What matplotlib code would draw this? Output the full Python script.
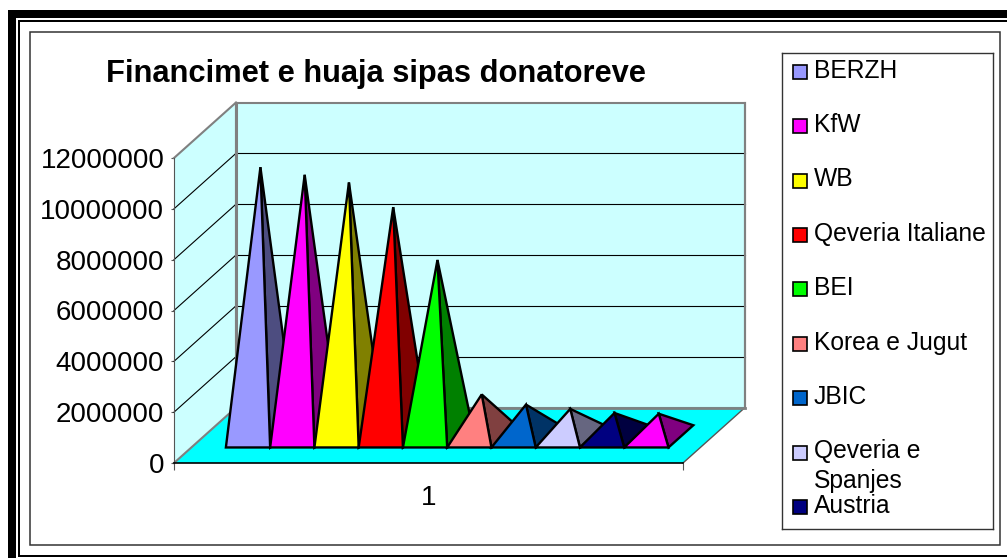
import matplotlib
matplotlib.use('Agg')
import matplotlib.pyplot as plt
from matplotlib.patches import Polygon, Rectangle

plt.rcParams['font.family'] = ['Liberation Sans', 'DejaVu Sans']

# donors
donors = ['BERZH', 'KfW', 'WB', 'Qeveria Italiane', 'BEI', 'Korea e Jugut',
          'JBIC', 'Qeveria e\nSpanjes', 'Austria']
values = [10590000, 10290000, 9990000, 9020000, 6940000, 1650000, 1250000,
          1080000, 920000, 890000]
front_colors = ['#9999FF', '#FF00FF', '#FFFF00', '#FF0000', '#00FF00', '#FF8080',
                '#0066CC', '#CCCCFF', '#000080', '#FF00FF']
side_colors = ['#4D4D80', '#800080', '#808000', '#800000', '#008000', '#804040',
               '#003366', '#666680', '#000040', '#800080']
y_ticks = [0, 2000000, 4000000, 6000000, 8000000, 10000000, 12000000]
categories = ['1']

W, H = 1007, 558
fig = plt.figure(figsize=(W / 100, H / 100), dpi=100, facecolor='white')


def px_axes(x0, y0, x1, y1):
    # y counted from the top of the image, like in the reference
    return fig.add_axes([x0 / W, 1 - y1 / H, (x1 - x0) / W, (y1 - y0) / H])


# frames around the whole picture (no border on the right side)
bg = px_axes(0, 0, W, H)
bg.set_xlim(0, W)
bg.set_ylim(H, 0)
bg.axis('off')
bg.add_patch(Rectangle((8, 10), W - 8, 7.5, fc='black', ec='none'))
bg.add_patch(Rectangle((8, 10), 8, H - 10, fc='black', ec='none'))
bg.add_patch(Rectangle((18, 20), W - 18, 2, fc='black', ec='none'))
bg.add_patch(Rectangle((18, 20), 2, H - 21, fc='black', ec='none'))
bg.add_patch(Rectangle((18, 555), W - 18, 2, fc='black', ec='none'))
bg.add_patch(Rectangle((29.5, 31.5), 970, 513, fill=False, ec='#333333', lw=1.1))

# plot axes = front plane of the 3d box
ax = px_axes(174, 158, 683, 463)
n = len(values)
gap = 1.5
ax.set_xlim(0, n + gap)
ax.set_ylim(0, 12000000)
ax.patch.set_visible(False)
for s in ['top', 'right']:
    ax.spines[s].set_visible(False)
ax.spines['left'].set_color('#555555')
ax.spines['bottom'].set_linewidth(1.2)
ax.set_yticks(y_ticks)
ax.set_yticklabels([str(v) for v in y_ticks])
ax.set_xticks([0, n + gap])
ax.set_xticklabels([])
ax.tick_params(axis='y', labelsize=20, length=2, pad=5, color='#555555')
ax.tick_params(axis='x', length=5, color='#555555', direction='out')
ax.text((n + gap) / 2, -1365000, categories[0], fontsize=20, ha='center', va='center')

# depth of the box, in data units of the front plane
depth_x = 62 / 509 * (n + gap)
depth_y = 55.5 / 305 * 12000000


def proj(x, v, d):
    return (x + d * depth_x, v + d * depth_y)


xe = n + gap
top = y_ticks[-1]
wall = '#CCFFFF'
grey = '#808080'
# left wall, back wall, floor
ax.add_patch(Polygon([proj(0, 0, 0), proj(0, top, 0), proj(0, top, 1), proj(0, 0, 1)],
                     fc=wall, ec='none', clip_on=False, zorder=1))
ax.add_patch(Polygon([proj(0, 0, 1), proj(0, top, 1), proj(xe, top, 1), proj(xe, 0, 1)],
                     fc=wall, ec=grey, lw=1.5, clip_on=False, zorder=1))
ax.add_patch(Polygon([proj(0, 0, 0), proj(xe, 0, 0), proj(xe, 0, 1), proj(0, 0, 1)],
                     fc='#00FFFF', ec='none', clip_on=False, zorder=1))
ax.plot(*zip(proj(0, top, 0), proj(0, top, 1)), color=grey, lw=1.5, clip_on=False, zorder=2)
ax.plot(*zip(proj(0, 0, 0), proj(0, 0, 1)), color=grey, lw=1.5, clip_on=False, zorder=2)
ax.plot(*zip(proj(xe, 0, 0), proj(xe, 0, 1)), color='#555555', lw=1, clip_on=False, zorder=2)
ax.plot(*zip(proj(0, 0, 1), proj(xe, 0, 1)), color=grey, lw=2, clip_on=False, zorder=2)
for v in y_ticks[1:-1]:
    ax.plot(*zip(proj(0, v, 0), proj(0, v, 1)), color='black', lw=0.8, clip_on=False, zorder=2)
    ax.plot(*zip(proj(0, v, 1), proj(xe, v, 1)), color='black', lw=0.8, clip_on=False, zorder=2)
ax.plot(*zip(proj(0, 0, 1), proj(0, top, 1)), color=grey, lw=2.2, clip_on=False, zorder=2)
ax.plot(*zip(proj(xe, 0, 1), proj(xe, top, 1)), color=grey, lw=1.5, clip_on=False, zorder=2)

# pyramids, left to right
d_front, d_mid, d_back = 0.28, 0.48, 0.68
for i, (val, fc, sc) in enumerate(zip(values, front_colors, side_colors)):
    x0 = gap / 2 + i + 0.03
    x1 = x0 + 1
    apex = proj(x0 + 0.5, val, d_mid)
    ax.add_patch(Polygon([proj(x1, 0, d_front), proj(x1, 0, d_back), apex],
                         fc=sc, ec='black', lw=1.7, joinstyle='miter', clip_on=False, zorder=3))
    ax.add_patch(Polygon([proj(x0, 0, d_front), proj(x1, 0, d_front), apex],
                         fc=fc, ec='black', lw=1.7, joinstyle='miter', clip_on=False, zorder=3))

fig.text(376 / W, 1 - 74 / H, 'Financimet e huaja sipas donatoreve', fontsize=22.2,
         fontweight='bold', ha='center', va='center')

# legend box
lg = px_axes(782, 53, 993, 529)
lg.set_xlim(782, 993)
lg.set_ylim(529, 53)
lg.set_xticks([])
lg.set_yticks([])
for s in lg.spines.values():
    s.set_color('#333333')
    s.set_linewidth(1)
for i, name in enumerate(donors):
    yc = 71.5 + i * 54.5
    lg.add_patch(Rectangle((793, yc - 7), 14, 14, fc=front_colors[i], ec='black', lw=1.2))
    # baseline of a wrapped label is the one of its last line
    lg.text(814, yc + 6 + 29 * name.count('\n'), name, fontsize=17.7, va='baseline',
            ha='left', linespacing=1.32)

fig.savefig('out.png', dpi=100)
